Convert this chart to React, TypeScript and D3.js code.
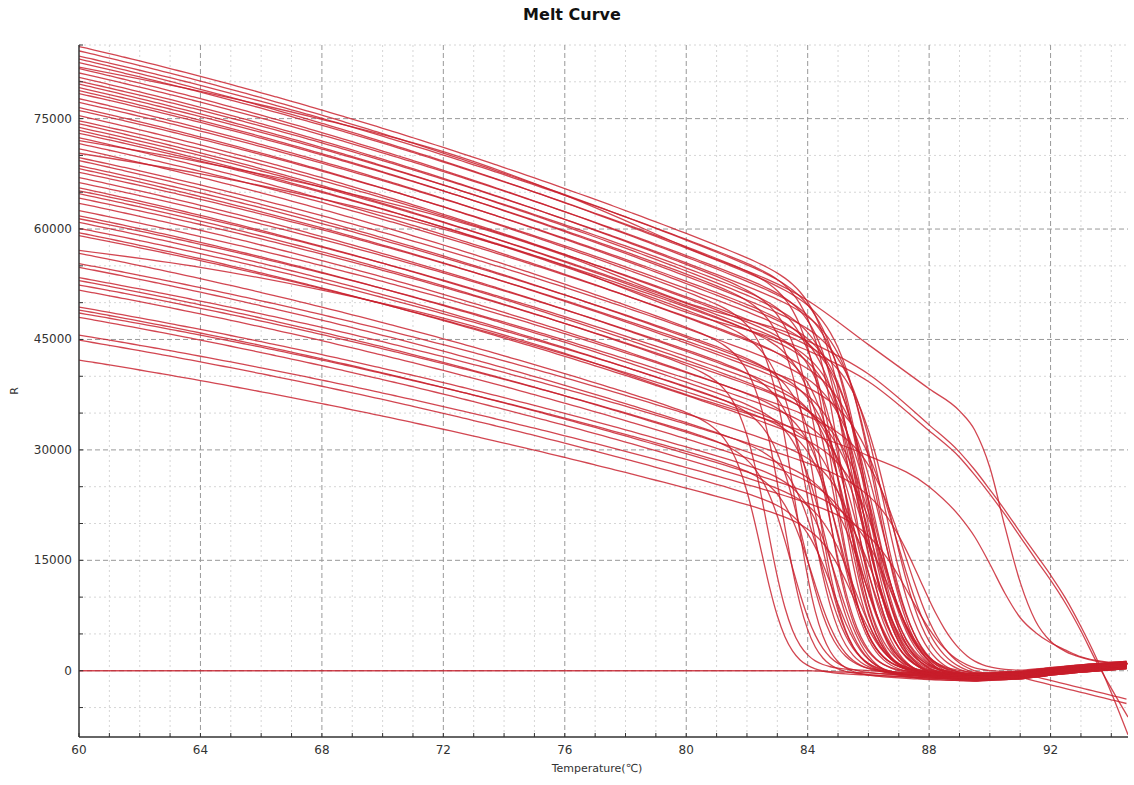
import React from 'react';
import * as d3 from 'd3';

const WIDTH_PX = 1134;
const HEIGHT_PX = 785;

const X_TICKS = [60, 64, 68, 72, 76, 80, 84, 88, 92];
const Y_TICKS = [0, 15000, 30000, 45000, 60000, 75000];

// Bulk melt curves: value at 60 °C, value at 80 °C, melt temperature, melt width, band offset
const START = [84800, 84200, 83500, 83100, 82600, 81800, 81200, 80600, 80100, 79700,
  79200, 78800, 78400, 77700, 77200, 76500, 76100, 75400, 74700, 74300,
  73800, 73400, 73000, 72400, 71600, 70900, 69700, 69300, 68600, 68200,
  67700, 67000, 66300, 65600, 65200, 64800, 64200, 63500, 62500, 61800,
  61400, 60900, 60100, 59500, 59100, 56700, 55300, 54800, 53400, 53000,
  52400, 51700, 49400, 49000, 48600, 48000, 45600, 44900, 42200];
const AT80 = [59400, 58500, 58600, 57400, 57600, 56200, 56400, 55200, 55400, 54300,
  54700, 53600, 53900, 52600, 52900, 51500, 51900, 50600, 50800, 49600,
  49900, 49000, 49400, 48000, 48100, 46700, 46500, 45300, 45500, 44500,
  44800, 43400, 43600, 42200, 42700, 41600, 41800, 40600, 40500, 39200,
  39700, 38500, 38600, 37400, 37900, 35200, 34900, 33700, 33500, 32400,
  32600, 31500, 30400, 29500, 29800, 28700, 27600, 26500, 24800];
const TM = [85.6, 85.9, 85.2, 86.3, 84.9, 86.0, 85.5, 84.6, 86.4, 85.8,
  85.1, 86.6, 84.3, 86.1, 85.7, 83.6, 86.2, 85.4, 86.8, 85.0,
  86.0, 84.1, 85.9, 86.5, 85.3, 83.2, 86.3, 85.6, 84.8, 86.0,
  87.0, 85.5, 84.4, 86.2, 85.8, 82.7, 86.4, 85.1, 87.3, 84.7,
  86.1, 85.7, 83.9, 86.6, 85.2, 82.5, 86.0, 84.5, 87.8, 85.9,
  83.5, 86.3, 85.0, 86.8, 84.2, 85.6, 87.5, 84.9, 85.6];
const MELT_WIDTH = [0.55, 0.6, 0.5, 0.6, 0.5, 0.55, 0.5, 0.5, 0.6, 0.55,
  0.5, 0.6, 0.5, 0.55, 0.55, 0.45, 0.6, 0.5, 0.6, 0.5,
  0.55, 0.5, 0.55, 0.6, 0.5, 0.45, 0.6, 0.55, 0.5, 0.55,
  0.65, 0.5, 0.5, 0.6, 0.55, 0.45, 0.6, 0.5, 0.65, 0.5,
  0.55, 0.55, 0.5, 0.6, 0.5, 0.45, 0.55, 0.5, 0.7, 0.55,
  0.5, 0.6, 0.5, 0.6, 0.5, 0.55, 0.7, 0.5, 0.55];
const OFFSET = [200, -300, 100, -500, 400, 0, -200, 300, -400, 100,
  500, -100, -300, 200, 0, -500, 300, -200, 100, 400,
  -400, 0, 200, -100, 300, -300, 500, -200, 100, -400,
  0, 400, -100, 200, -500, 300, -300, 100, 0, -200,
  400, -100, 200, -400, 300, -300, 0, 100, 500, -200,
  -100, 300, -500, 200, 0, -300, 400, -100, 100];
// curves whose post-melt baseline drifts down (index -> value at 94.55 °C)
const TAIL_INDEX = [35, 45];
const TAIL_END = [-3900, -4500];

// common post-melt baseline (also the no-template trace)
const POST_T = [60, 84, 86, 88, 89.5, 91, 92, 93, 94.55];
const POST_R = [0, 0, -300, -700, -900, -600, -100, 300, 800];

// late-melting traces read as knots
const LATE_T = [60, 64, 68, 72, 76, 80, 84, 86, 88, 89, 89.5, 90, 90.5, 91, 91.5, 92, 92.5, 93, 93.5, 94, 94.55];
const LATE_1 = [82000, 78700, 74900, 70500, 64600, 57500, 50300, 44300, 38300, 35300, 32700, 27600, 19500, 12000, 6800, 4000, 2600, 1800, 1300, 1100, 1000];
const LATE_2 = [72000, 69100, 65700, 61600, 56400, 50000, 44800, 40300, 33400, 29700, 27300, 24600, 21800, 18800, 15900, 13000, 9800, 6000, 1800, -3000, -8700];
const LATE_3 = [70300, 67500, 64100, 60000, 55000, 48700, 43500, 39300, 32600, 29000, 26600, 24000, 21200, 18200, 15200, 12300, 9100, 5400, 1300, -2400, -6300];
const LATE_4 = [57100, 54800, 51700, 47900, 43100, 37500, 32300, 29200, 25000, 21000, 18200, 14500, 10500, 7200, 5200, 3800, 2800, 1900, 1400, 1100, 900];

const X0 = 79, X1 = 1128, Y0 = 737, Y1 = 45;

export default function App() {
  const x = d3.scaleLinear().domain([60, 94.55]).range([X0, X1]);
  const y = d3.scaleLinear().domain([-9000, 85000]).range([Y0, Y1]);
  const post = d3.scaleLinear().domain(POST_T).range(POST_R);
  const temps = d3.range(60, 94.5501, 0.25);

  const line = d3.line<[number, number]>()
    .x(d => x(d[0]))
    .y(d => y(d[1]))
    .curve(d3.curveMonotoneX);

  const shape = (t: number) => {
    const u = (t - 60) / 20;
    return u * (0.75 + 0.25 * u);
  };

  const bulkPaths = START.map((r60, i) => {
    const r80 = AT80[i];
    const tm = TM[i];
    const w = MELT_WIDTH[i];
    const off = OFFSET[i];
    const ti = TAIL_INDEX.indexOf(i);
    const pts: [number, number][] = temps.map(t => {
      const base = r60 - (r60 - r80) * shape(t);
      const s = 1 / (1 + Math.exp((t - tm) / w));
      let p = post(t) + off;
      if (ti >= 0 && t > 91) {
        const p91 = post(91) + off;
        p = p91 + (TAIL_END[ti] - p91) * ((t - 91) / 3.55);
      }
      return [t, base * s + p * (1 - s)];
    });
    return line(pts) as string;
  });

  const blankPath = line(temps.map(t => [t, post(t)] as [number, number])) as string;
  const latePaths = [LATE_1, LATE_2, LATE_3, LATE_4].map(vals =>
    line(LATE_T.map((t, k) => [t, vals[k]] as [number, number])) as string);

  const xMinor = d3.range(61, 95, 1).filter(v => !X_TICKS.includes(v));
  const yMinor = d3.range(-5000, 85001, 5000).filter(v => !Y_TICKS.includes(v));
  const allXTicks = d3.range(60, 95, 1);
  const allYTicks = d3.range(-5000, 85001, 5000);

  const red = '#c81d2b';

  return (
    <svg width={WIDTH_PX} height={HEIGHT_PX}
      style={{ position: 'absolute', left: 0, top: 0, background: '#fff' }}
      fontFamily="'DejaVu Sans', Verdana, sans-serif">
      <defs>
        <clipPath id="plot">
          <rect x={X0} y={Y1} width={X1 - X0} height={Y0 - Y1} />
        </clipPath>
      </defs>
      <text x={572} y={20} textAnchor="middle" fontSize={16} fontWeight="bold" fill="#111">Melt Curve</text>

      {xMinor.map(v => (
        <line key={'xm' + v} x1={x(v)} x2={x(v)} y1={Y1} y2={Y0} stroke="#d6d6d6" strokeDasharray="2,3" />
      ))}
      {yMinor.map(v => (
        <line key={'ym' + v} x1={X0} x2={X1} y1={y(v)} y2={y(v)} stroke="#d6d6d6" strokeDasharray="2,3" />
      ))}
      {X_TICKS.filter(v => v > 60).map(v => (
        <line key={'xM' + v} x1={x(v)} x2={x(v)} y1={Y1} y2={Y0} stroke="#999" strokeDasharray="5,3" />
      ))}
      {Y_TICKS.map(v => (
        <line key={'yM' + v} x1={X0} x2={X1} y1={y(v)} y2={y(v)} stroke="#999" strokeDasharray="5,3" />
      ))}

      <g clipPath="url(#plot)" fill="none" stroke={red} strokeWidth={1.3} strokeOpacity={0.82}>
        <path d={blankPath} />
        {bulkPaths.map((d, i) => <path key={'b' + i} d={d} />)}
        {latePaths.map((d, i) => <path key={'l' + i} d={d} />)}
      </g>

      <line x1={X0} x2={X0} y1={Y1} y2={Y0} stroke="#333" strokeWidth={1.5} />
      <line x1={X0} x2={X1} y1={Y0} y2={Y0} stroke="#333" strokeWidth={1.5} />
      {allXTicks.map(v => (
        <line key={'xt' + v} x1={x(v)} x2={x(v)} y1={Y0} y2={Y0 - 4} stroke="#333" />
      ))}
      {allYTicks.map(v => (
        <line key={'yt' + v} x1={X0} x2={X0 + 4} y1={y(v)} y2={y(v)} stroke="#333" />
      ))}

      {X_TICKS.map(v => (
        <text key={'xl' + v} x={x(v)} y={754} textAnchor="middle" fontSize={12} fill="#333">{v}</text>
      ))}
      {Y_TICKS.map(v => (
        <text key={'yl' + v} x={72} y={y(v) + 4} textAnchor="end" fontSize={12} fill="#333">{v}</text>
      ))}
      <text x={597} y={772} textAnchor="middle" fontSize={11} fill="#333">Temperature(℃)</text>
      <text x={0} y={0} transform="translate(18,391) rotate(-90)" textAnchor="middle" fontSize={11} fill="#333">R</text>
    </svg>
  );
}
